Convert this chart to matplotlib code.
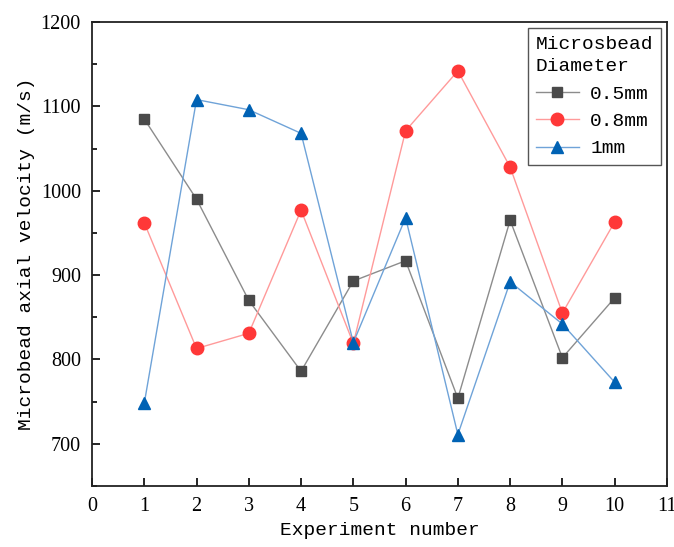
import numpy as np
import matplotlib.pyplot as plt

experiments = [1, 2, 3, 4, 5, 6, 7, 8, 9, 10]
v_05mm = [1085, 990, 870, 786, 893, 917, 754, 965, 802, 873]
v_08mm = [962, 813, 831, 977, 819, 1071, 1142, 1028, 855, 963]
v_1mm = [748, 1108, 1096, 1068, 820, 968, 711, 892, 842, 773]

label_font = 'Liberation Mono'
tick_font = 'Liberation Serif'

fig = plt.figure(figsize=(6.74, 5.47), dpi=100)
ax = fig.add_axes([0.1365, 0.1115, 0.853, 0.8483])

ax.plot(experiments, v_05mm, color='#8c8c8c', lw=1, marker='s', ms=7.5,
        mfc='#4a4a4a', mec='#4a4a4a', label='0.5mm')
ax.plot(experiments, v_08mm, color='#ff9a9a', lw=1, marker='o', ms=9,
        mfc='#ff3838', mec='#ff3838', label='0.8mm')
ax.plot(experiments, v_1mm, color='#6fa3d8', lw=1, marker='^', ms=9,
        mfc='#0062b4', mec='#0062b4', label='1mm')

ax.set_xlim(0, 11)
ax.set_ylim(650, 1200)
ax.set_xticks(np.arange(0, 12, 1))
ax.set_yticks(np.arange(700, 1201, 100))
ax.set_yticks(np.arange(650, 1200, 50), minor=True)
ax.tick_params(axis='both', which='both', direction='in')
ax.tick_params(axis='both', which='major', length=6, width=1.2, labelsize=14.5, pad=8)
ax.tick_params(axis='y', which='minor', length=3.5, width=1.2)
for lab in ax.get_xticklabels() + ax.get_yticklabels():
    lab.set_family(tick_font)

for s in ax.spines.values():
    s.set_linewidth(1.3)
    s.set_color('#222222')

ax.set_xlabel('Experiment number', family=label_font, fontsize=14, labelpad=4)
ax.set_ylabel('Microbead axial velocity (m/s)', family=label_font, fontsize=14, labelpad=4)

leg = ax.legend(title='Microsbead\nDiameter', loc='upper right',
                prop={'family': label_font, 'size': 14},
                title_fontproperties={'family': label_font, 'size': 14},
                fancybox=False, edgecolor='#555555', framealpha=1,
                handlelength=2.2, borderaxespad=0.3, labelspacing=0.5,
                borderpad=0.4, handletextpad=0.6)
leg._legend_box.align = 'left'
leg.get_title().set_linespacing(1.45)
leg.get_frame().set_linewidth(1)

fig.savefig('out.png', dpi=100)
